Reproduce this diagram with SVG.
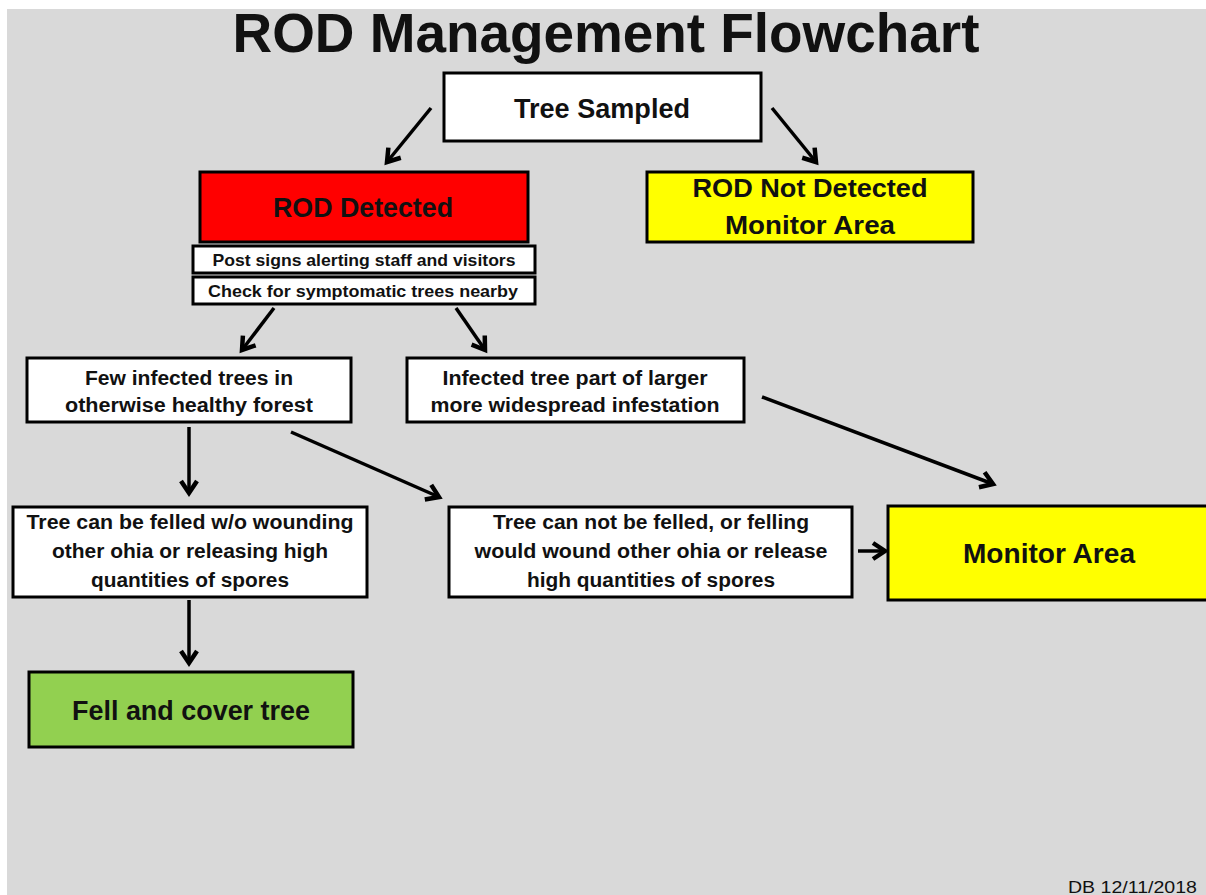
<svg xmlns="http://www.w3.org/2000/svg" width="1206" height="895" viewBox="0 0 1206 895">
<defs>
<style>
.box{stroke:#000;stroke-width:3}
.w{fill:#fff}
.t{font-family:"Liberation Sans",Arial,sans-serif;font-weight:bold;fill:#111;text-anchor:middle}
.c{stroke:#000;stroke-width:3.5;fill:none;marker-end:url(#ah)}
</style>
<marker id="ah" markerUnits="userSpaceOnUse" markerWidth="24" markerHeight="24" viewBox="0 0 24 24" refX="18" refY="12" orient="auto">
<path d="M6,4 L18,12 L6,20" fill="none" stroke="#000" stroke-width="4.5" stroke-linejoin="miter"/>
</marker>
</defs>
<rect x="0" y="0" width="1206" height="895" fill="#fff"/>
<rect x="7" y="9" width="1199" height="886" fill="#d9d9d9"/>
<text class="t" x="606" y="52" font-size="55" textLength="747" lengthAdjust="spacingAndGlyphs">ROD Management Flowchart</text>

<g id="connectors">
<line class="c" x1="431" y1="108" x2="387" y2="162"/>
<line class="c" x1="772" y1="108" x2="816" y2="162"/>
<line class="c" x1="274" y1="308" x2="242" y2="350"/>
<line class="c" x1="456" y1="308" x2="485" y2="350"/>
<line class="c" x1="762" y1="397" x2="993" y2="484"/>
<line class="c" x1="189" y1="427" x2="189" y2="493"/>
<line class="c" x1="291" y1="432" x2="439" y2="497"/>
<line class="c" x1="189" y1="600" x2="189" y2="663"/>
<line class="c" x1="858" y1="551" x2="885" y2="551"/>
</g>

<g id="tree-sampled">
<rect class="box w" x="444" y="73" width="317" height="68"/>
<text class="t" x="602" y="118" font-size="27" textLength="176" lengthAdjust="spacingAndGlyphs">Tree Sampled</text>
</g>

<g id="rod-detected">
<rect class="box" x="200" y="172" width="328" height="70" fill="#ff0000"/>
<text class="t" x="363" y="217" font-size="28" textLength="180" lengthAdjust="spacingAndGlyphs">ROD Detected</text>
</g>

<g id="post-signs">
<rect class="box w" x="193" y="246" width="342" height="27"/>
<text class="t" x="364" y="266" font-size="17" textLength="303" lengthAdjust="spacingAndGlyphs">Post signs alerting staff and visitors</text>
</g>

<g id="check-trees">
<rect class="box w" x="193" y="277" width="342" height="27"/>
<text class="t" x="363" y="297" font-size="17" textLength="310" lengthAdjust="spacingAndGlyphs">Check for symptomatic trees nearby</text>
</g>

<g id="rod-not-detected">
<rect class="box" x="647" y="172" width="326" height="70" fill="#ffff00"/>
<text class="t" x="810" y="197" font-size="26" textLength="235" lengthAdjust="spacingAndGlyphs">ROD Not Detected</text>
<text class="t" x="810" y="234" font-size="26" textLength="170" lengthAdjust="spacingAndGlyphs">Monitor Area</text>
</g>

<g id="few-infected">
<rect class="box w" x="27" y="358" width="324" height="64"/>
<text class="t" x="189" y="385" font-size="20" textLength="208" lengthAdjust="spacingAndGlyphs">Few infected trees in</text>
<text class="t" x="189" y="412" font-size="20" textLength="248" lengthAdjust="spacingAndGlyphs">otherwise healthy forest</text>
</g>

<g id="widespread">
<rect class="box w" x="407" y="358" width="337" height="64"/>
<text class="t" x="575" y="385" font-size="20" textLength="265" lengthAdjust="spacingAndGlyphs">Infected tree part of larger</text>
<text class="t" x="575" y="412" font-size="20" textLength="289" lengthAdjust="spacingAndGlyphs">more widespread infestation</text>
</g>

<g id="can-fell">
<rect class="box w" x="13" y="507" width="354" height="90"/>
<text class="t" x="190" y="529" font-size="20" textLength="327" lengthAdjust="spacingAndGlyphs">Tree can be felled w/o wounding</text>
<text class="t" x="190" y="558" font-size="20" textLength="276" lengthAdjust="spacingAndGlyphs">other ohia or releasing high</text>
<text class="t" x="190" y="587" font-size="20" textLength="198" lengthAdjust="spacingAndGlyphs">quantities of spores</text>
</g>

<g id="cannot-fell">
<rect class="box w" x="449" y="507" width="403" height="90"/>
<text class="t" x="651" y="529" font-size="20" textLength="316" lengthAdjust="spacingAndGlyphs">Tree can not be felled, or felling</text>
<text class="t" x="651" y="558" font-size="20" textLength="353" lengthAdjust="spacingAndGlyphs">would wound other ohia or release</text>
<text class="t" x="651" y="587" font-size="20" textLength="248" lengthAdjust="spacingAndGlyphs">high quantities of spores</text>
</g>

<g id="monitor-area">
<rect class="box" x="888" y="506" width="330" height="94" fill="#ffff00"/>
<text class="t" x="1049" y="563" font-size="27" textLength="172" lengthAdjust="spacingAndGlyphs">Monitor Area</text>
</g>

<g id="fell-cover">
<rect class="box" x="29" y="672" width="324" height="75" fill="#92d050"/>
<text class="t" x="191" y="720" font-size="27" textLength="238" lengthAdjust="spacingAndGlyphs">Fell and cover tree</text>
</g>

<text x="1068" y="893" font-family="Liberation Sans,Arial,sans-serif" font-size="17" fill="#111" textLength="129" lengthAdjust="spacingAndGlyphs">DB 12/11/2018</text>
</svg>
